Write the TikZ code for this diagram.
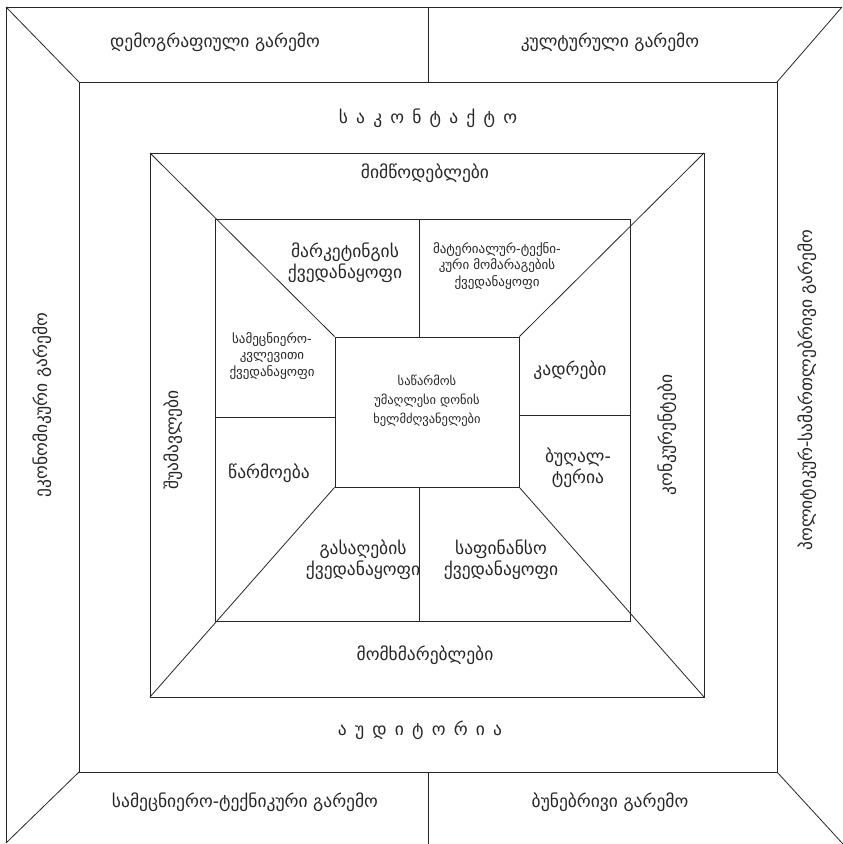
\documentclass[tikz,border=0pt]{standalone}
\usepackage{fontspec}
\setmainfont{DejaVu Sans}

\begin{document}
\begin{tikzpicture}[x=1pt,y=-1pt,line width=0.8pt,black!85,
  lbl/.style={font=\fontsize{17.5}{21}\selectfont,align=center,inner sep=0pt},
  spc/.style={lbl,execute at begin node={\spaceskip=8.2pt\relax}},
  sml/.style={font=\fontsize{13}{16.5}\selectfont,align=center,inner sep=0pt},
  top/.style={font=\fontsize{12.5}{19}\selectfont,align=center,inner sep=0pt}]
  \useasboundingbox (0,0) rectangle (843,844);
  \coordinate (a1) at (79,82);   \coordinate (a2) at (777,82);
  \coordinate (a3) at (777,772); \coordinate (a4) at (79,772);
  \coordinate (b1) at (150,153); \coordinate (b2) at (704,153);
  \coordinate (b3) at (704,697); \coordinate (b4) at (150,697);
  \coordinate (c1) at (215,219); \coordinate (c2) at (630,219);
  \coordinate (c3) at (630,621); \coordinate (c4) at (215,621);
  % outer frame
  \draw (6,843)--(6,7)--(842,7);
  \draw (428,7)--(428,82) (428,772)--(428,844);
  \draw (6,7)--(a1) (842,7)--(a2) (a4)--(6,843) (a3)--(843,844);
  \draw (a1) rectangle (a3) (b1) rectangle (b3) (c1) rectangle (c3);
  \node[draw,minimum width=184pt,minimum height=150pt,inner sep=0pt] (ceo) at (427,412) {};
  \draw (b1)--(ceo.north west) (b2)--(ceo.north east)
        (b4)--(ceo.south west) (b3)--(ceo.south east);
  \draw (419,219)--(419,337) (419,487)--(419,621);
  \draw (c1|-0,417)--(335,417) (519,415)--(c2|-0,415);
  % environment
  \node[lbl] (demo) at (215,42) {დემოგრაფიული გარემო};
  \node[lbl] (kult) at (610,42) {კულტურული გარემო};
  \node[lbl] (tech) at (245,802) {სამეცნიერო-ტექნიკური გარემო};
  \node[lbl] (bune) at (610,802) {ბუნებრივი გარემო};
  \node[lbl,rotate=90] (ekon) at (42,405) {ეკონომიკური გარემო};
  \node[lbl,rotate=90] (poli) at (807,390) {პოლიტიკურ-სამართლებრივი გარემო};
  \node[spc] (kont) at (428,118) {ს ა კ ო ნ ტ ა ქ ტ ო};
  \node[spc] (audi) at (420,730) {ა უ დ ი ტ ო რ ი ა};
  \node[lbl] (mimt) at (425,173) {მიმწოდებლები};
  \node[lbl] (momx) at (425,655) {მომხმარებლები};
  \node[lbl,rotate=90] (shua) at (173,440) {შუამავლები};
  \node[lbl,rotate=90] (konk) at (667,435) {კონკურენტები};
  % departments
  \node[lbl] (mark) at (345,263) {მარკეტინგის\\ქვედანაყოფი};
  \node[sml] (mate) at (497,266) {მატერიალურ-ტექნი-\\კური მომარაგების\\ქვედანაყოფი};
  \node[sml] (kvle) at (272,356) {სამეცნიერო-\\კვლევითი\\ქვედანაყოფი};
  \node[lbl] (kadr) at (570,370) {კადრები};
  \node[lbl] (tsar) at (269,473) {წარმოება};
  \node[lbl] (bugh) at (578,468) {ბუღალ-\\ტერია};
  \node[lbl] (gasa) at (363,560) {გასაღების\\ქვედანაყოფი};
  \node[lbl] (safi) at (501,560) {საფინანსო\\ქვედანაყოფი};
  \node[top] (ceot) at (427,401) {საწარმოს\\უმაღლესი დონის\\ხელმძღვანელები};
\end{tikzpicture}
\end{document}
